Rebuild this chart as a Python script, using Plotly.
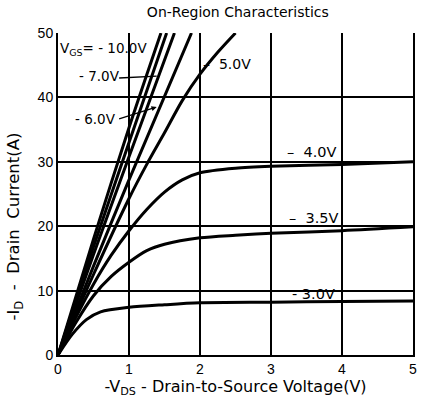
import plotly.graph_objects as go

# Drain current vs drain-source voltage for several gate voltages
vgs_labels = ["-10V", "-8V", "-7V", "-6V", "-5V", "-4V", "-3.5V", "-3V"]

vds_10 = [0, 0.5, 1.0, 1.45]
id_10 = [0, 18.0, 35.3, 50]

vds_8 = [0, 0.5, 1.0, 1.53]
id_8 = [0, 16.8, 33.0, 50]

vds_7 = [0, 0.5, 1.0, 1.64]
id_7 = [0, 15.6, 30.8, 50]

vds_6 = [0, 0.5, 1.0, 1.88]
id_6 = [0, 13.8, 27.2, 50]

vds_5 = [0, 0.5, 1.0, 1.25, 1.5, 1.75, 2.0, 2.25, 2.5]
id_5 = [0, 12.5, 24.3, 29.6, 34.5, 39.5, 43.6, 47.0, 50]

vds_4 = [0, 0.25, 0.5, 0.75, 1.0, 1.25, 1.5, 1.75, 2.0, 2.5, 3.0, 4.0, 5.0]
id_4 = [0, 5.8, 11.0, 15.5, 19.3, 22.6, 25.3, 27.2, 28.3, 29.0, 29.3, 29.6, 30.0]

vds_35 = [0, 0.25, 0.5, 0.75, 1.0, 1.25, 1.5, 2.0, 2.5, 3.0, 4.0, 5.0]
id_35 = [0, 5.0, 9.2, 12.2, 14.4, 16.2, 17.2, 18.2, 18.6, 18.9, 19.3, 19.9]

vds_3 = [0, 0.2, 0.4, 0.6, 1.0, 1.5, 2.0, 3.0, 4.0, 5.0]
id_3 = [0, 3.2, 5.5, 6.7, 7.4, 7.8, 8.1, 8.2, 8.3, 8.4]

series = [
    (vds_10, id_10), (vds_8, id_8), (vds_7, id_7), (vds_6, id_6),
    (vds_5, id_5), (vds_4, id_4), (vds_35, id_35), (vds_3, id_3),
]

x_ticks = [0, 1, 2, 3, 4, 5]
y_ticks = [0, 10, 20, 30, 40, 50]

tick_font = "Liberation Sans, Arial, sans-serif"
label_font = "DejaVu Sans, Verdana, sans-serif"

fig = go.Figure()
for name, (xs, ys) in zip(vgs_labels, series):
    fig.add_trace(go.Scatter(
        x=xs, y=ys, mode="lines", name=name,
        line=dict(color="black", width=3, shape="spline", smoothing=0.8),
        showlegend=False, hoverinfo="skip",
    ))

annotations = [
    dict(x=0.0, y=47.5, text="V<sub>GS</sub>= - 10.0V", xanchor="left", size=13.5),
    dict(x=0.27, y=43.3, text="- 7.0V", xanchor="left", size=13.5),
    dict(x=0.21, y=36.7, text="- 6.0V", xanchor="left", size=13.5),
    dict(x=2.01, y=45.2, text="–  5.0V", xanchor="left", size=14),
    dict(x=3.2, y=31.6, text="–  4.0V", xanchor="left", size=14.5),
    dict(x=3.22, y=21.3, text="–  3.5V", xanchor="left", size=14.5),
    dict(x=3.27, y=9.4, text="- 3.0V", xanchor="left", size=14.5),
]
ann_list = []
for a in annotations:
    size = a.pop("size")
    ann_list.append(dict(
        xref="x", yref="y", showarrow=False, yanchor="middle",
        font=dict(family=label_font, size=size, color="black"), **a))

# leader lines from the gate-voltage labels to their curves
ann_list.append(dict(xref="x", yref="y", axref="x", ayref="y",
                     x=1.39, y=43.3, ax=0.84, ay=43.0, text="",
                     showarrow=True, arrowhead=0, arrowwidth=1.3,
                     arrowcolor="black"))
ann_list.append(dict(xref="x", yref="y", axref="x", ayref="y",
                     x=1.39, y=38.5, ax=0.84, ay=36.6, text="",
                     showarrow=True, arrowhead=2, arrowsize=0.8,
                     arrowwidth=1.3, arrowcolor="black"))

# vertical axis caption, set slightly below the plot's vertical centre
ann_list.append(dict(xref="paper", yref="paper", x=-0.123, y=0.40,
                     xanchor="center", yanchor="middle", textangle=-90,
                     showarrow=False,
                     text="-I<sub>D</sub>  -  Drain  Current(A)",
                     font=dict(family=label_font, size=16.5, color="black")))

fig.update_layout(
    width=421, height=405,
    margin=dict(l=58, r=4, t=33, b=50),
    paper_bgcolor="white", plot_bgcolor="white",
    font=dict(family=tick_font, size=14, color="black"),
    title=dict(text="On-Region Characteristics", x=0.565, xanchor="center",
               y=0.97, yanchor="middle",
               font=dict(family=label_font, size=14, color="black")),
    annotations=ann_list,
    xaxis=dict(
        range=[0, 5], tickvals=x_ticks, ticktext=[str(v) for v in x_ticks],
        showgrid=True, gridcolor="black", gridwidth=1.5,
        showline=True, linecolor="black", linewidth=2, mirror=False,
        ticks="", zeroline=False, tickfont=dict(size=14),
        title=dict(text="-V<sub>DS</sub> - Drain-to-Source Voltage(V)",
                   standoff=4, font=dict(family=label_font, size=16)),
    ),
    yaxis=dict(
        range=[0, 50], tickvals=y_ticks, ticktext=[str(v) for v in y_ticks],
        showgrid=True, gridcolor="black", gridwidth=1.5,
        showline=True, linecolor="black", linewidth=2, mirror=True,
        ticks="", zeroline=False, tickfont=dict(size=14),
    ),
)

fig.write_html("out.html")
